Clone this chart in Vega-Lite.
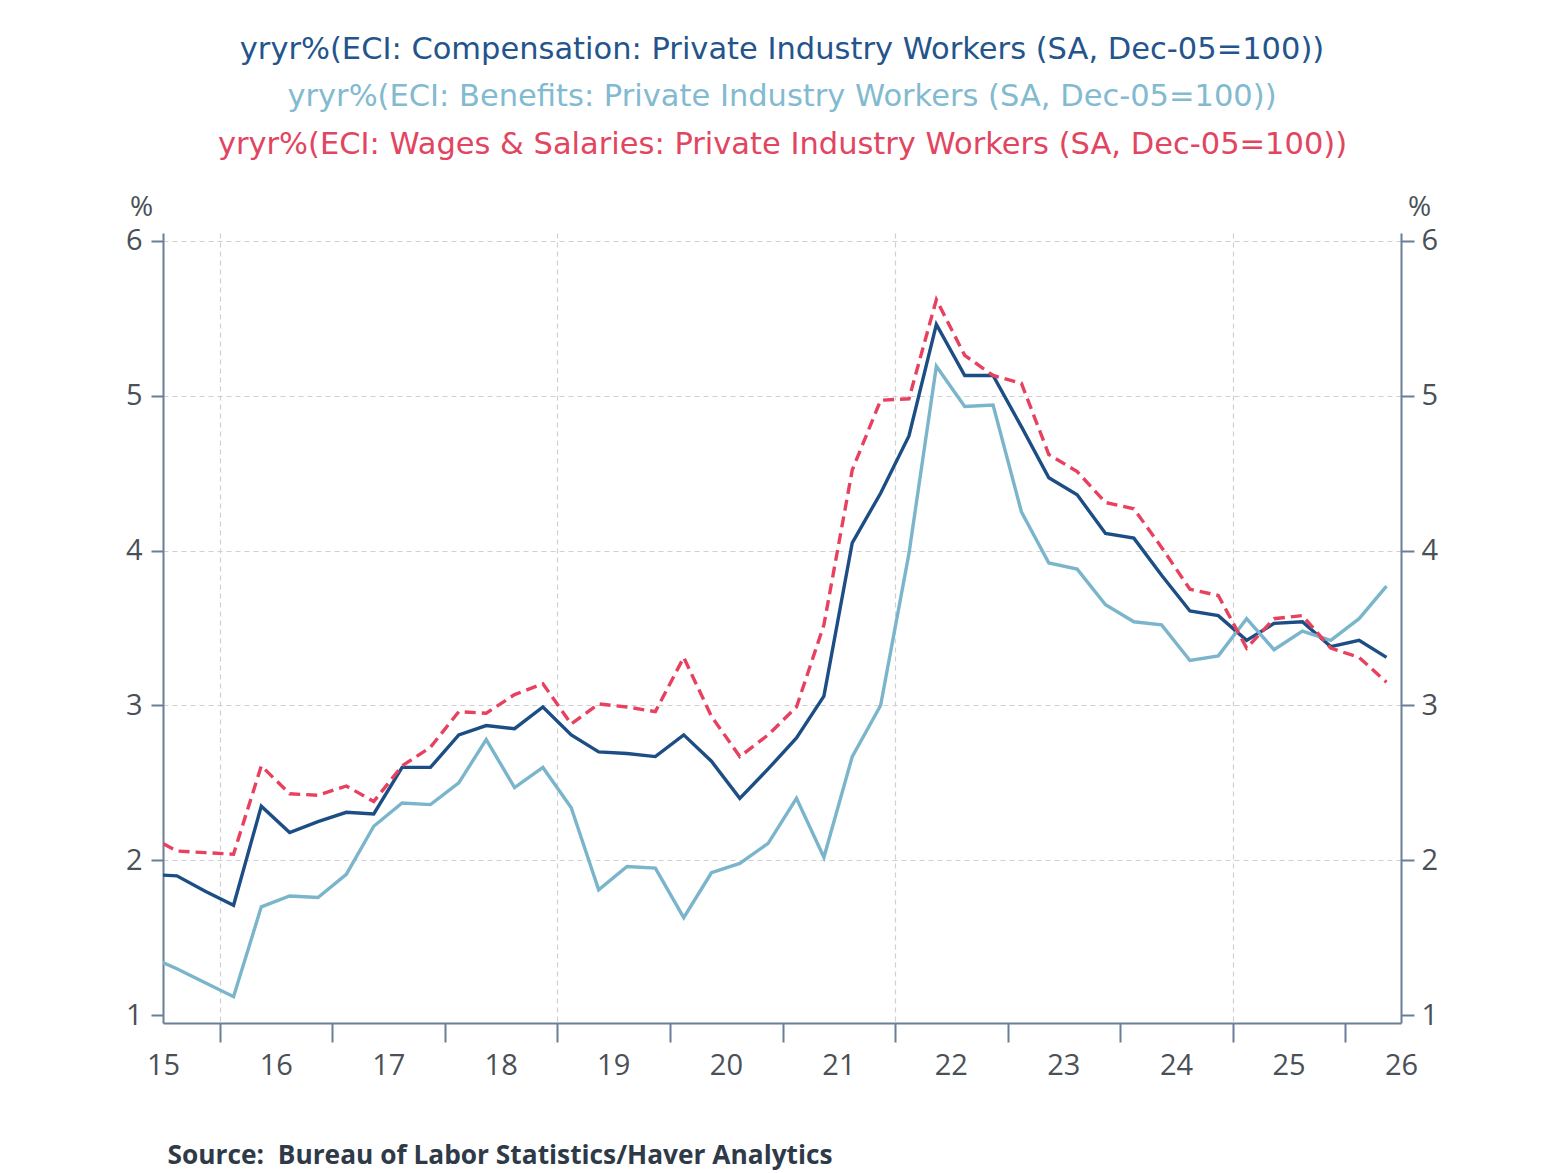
{
  "$schema": "https://vega.github.io/schema/vega-lite/v6.json",
  "autosize": {"type": "none"},
  "width": 1238,
  "height": 790,
  "padding": {"left": 163, "top": 233, "right": 159, "bottom": 150},
  "background": "white",
  "config": {"view": {"stroke": null}},
  "title": {
    "text": "yryr%(ECI: Compensation: Private Industry Workers (SA, Dec-05=100))",
    "subtitle": "yryr%(ECI: Benefits: Private Industry Workers (SA, Dec-05=100))",
    "font": "DejaVu Sans",
    "fontSize": 30.5,
    "fontWeight": "normal",
    "color": "#24548c",
    "subtitleFont": "DejaVu Sans",
    "subtitleFontSize": 30.5,
    "subtitleColor": "#82bad0",
    "subtitlePadding": 16,
    "anchor": "middle",
    "frame": "group",
    "offset": 17
  },
  "data": {
    "values": [
      {"date": "2015-05-15", "series": "Compensation", "value": 1.91},
      {"date": "2015-05-15", "series": "Benefits", "value": 1.38},
      {"date": "2015-05-15", "series": "Wages", "value": 2.16},
      {"date": "2015-08-15", "series": "Compensation", "value": 1.90},
      {"date": "2015-08-15", "series": "Benefits", "value": 1.30},
      {"date": "2015-08-15", "series": "Wages", "value": 2.06},
      {"date": "2015-11-15", "series": "Compensation", "value": 1.80},
      {"date": "2015-11-15", "series": "Benefits", "value": 1.21},
      {"date": "2015-11-15", "series": "Wages", "value": 2.05},
      {"date": "2016-02-15", "series": "Compensation", "value": 1.71},
      {"date": "2016-02-15", "series": "Benefits", "value": 1.12},
      {"date": "2016-02-15", "series": "Wages", "value": 2.04},
      {"date": "2016-05-15", "series": "Compensation", "value": 2.35},
      {"date": "2016-05-15", "series": "Benefits", "value": 1.70},
      {"date": "2016-05-15", "series": "Wages", "value": 2.61},
      {"date": "2016-08-15", "series": "Compensation", "value": 2.18},
      {"date": "2016-08-15", "series": "Benefits", "value": 1.77},
      {"date": "2016-08-15", "series": "Wages", "value": 2.43},
      {"date": "2016-11-15", "series": "Compensation", "value": 2.25},
      {"date": "2016-11-15", "series": "Benefits", "value": 1.76},
      {"date": "2016-11-15", "series": "Wages", "value": 2.42},
      {"date": "2017-02-15", "series": "Compensation", "value": 2.31},
      {"date": "2017-02-15", "series": "Benefits", "value": 1.91},
      {"date": "2017-02-15", "series": "Wages", "value": 2.48},
      {"date": "2017-05-15", "series": "Compensation", "value": 2.30},
      {"date": "2017-05-15", "series": "Benefits", "value": 2.22},
      {"date": "2017-05-15", "series": "Wages", "value": 2.38},
      {"date": "2017-08-15", "series": "Compensation", "value": 2.60},
      {"date": "2017-08-15", "series": "Benefits", "value": 2.37},
      {"date": "2017-08-15", "series": "Wages", "value": 2.61},
      {"date": "2017-11-15", "series": "Compensation", "value": 2.60},
      {"date": "2017-11-15", "series": "Benefits", "value": 2.36},
      {"date": "2017-11-15", "series": "Wages", "value": 2.73},
      {"date": "2018-02-15", "series": "Compensation", "value": 2.81},
      {"date": "2018-02-15", "series": "Benefits", "value": 2.50},
      {"date": "2018-02-15", "series": "Wages", "value": 2.96},
      {"date": "2018-05-15", "series": "Compensation", "value": 2.87},
      {"date": "2018-05-15", "series": "Benefits", "value": 2.78},
      {"date": "2018-05-15", "series": "Wages", "value": 2.95},
      {"date": "2018-08-15", "series": "Compensation", "value": 2.85},
      {"date": "2018-08-15", "series": "Benefits", "value": 2.47},
      {"date": "2018-08-15", "series": "Wages", "value": 3.07},
      {"date": "2018-11-15", "series": "Compensation", "value": 2.99},
      {"date": "2018-11-15", "series": "Benefits", "value": 2.60},
      {"date": "2018-11-15", "series": "Wages", "value": 3.14},
      {"date": "2019-02-15", "series": "Compensation", "value": 2.81},
      {"date": "2019-02-15", "series": "Benefits", "value": 2.34},
      {"date": "2019-02-15", "series": "Wages", "value": 2.88},
      {"date": "2019-05-15", "series": "Compensation", "value": 2.70},
      {"date": "2019-05-15", "series": "Benefits", "value": 1.81},
      {"date": "2019-05-15", "series": "Wages", "value": 3.01},
      {"date": "2019-08-15", "series": "Compensation", "value": 2.69},
      {"date": "2019-08-15", "series": "Benefits", "value": 1.96},
      {"date": "2019-08-15", "series": "Wages", "value": 2.99},
      {"date": "2019-11-15", "series": "Compensation", "value": 2.67},
      {"date": "2019-11-15", "series": "Benefits", "value": 1.95},
      {"date": "2019-11-15", "series": "Wages", "value": 2.96},
      {"date": "2020-02-15", "series": "Compensation", "value": 2.81},
      {"date": "2020-02-15", "series": "Benefits", "value": 1.63},
      {"date": "2020-02-15", "series": "Wages", "value": 3.31},
      {"date": "2020-05-15", "series": "Compensation", "value": 2.64},
      {"date": "2020-05-15", "series": "Benefits", "value": 1.92},
      {"date": "2020-05-15", "series": "Wages", "value": 2.93},
      {"date": "2020-08-15", "series": "Compensation", "value": 2.40},
      {"date": "2020-08-15", "series": "Benefits", "value": 1.98},
      {"date": "2020-08-15", "series": "Wages", "value": 2.67},
      {"date": "2020-11-15", "series": "Compensation", "value": 2.59},
      {"date": "2020-11-15", "series": "Benefits", "value": 2.11},
      {"date": "2020-11-15", "series": "Wages", "value": 2.81},
      {"date": "2021-02-15", "series": "Compensation", "value": 2.79},
      {"date": "2021-02-15", "series": "Benefits", "value": 2.40},
      {"date": "2021-02-15", "series": "Wages", "value": 2.99},
      {"date": "2021-05-15", "series": "Compensation", "value": 3.06},
      {"date": "2021-05-15", "series": "Benefits", "value": 2.02},
      {"date": "2021-05-15", "series": "Wages", "value": 3.52},
      {"date": "2021-08-15", "series": "Compensation", "value": 4.05},
      {"date": "2021-08-15", "series": "Benefits", "value": 2.67},
      {"date": "2021-08-15", "series": "Wages", "value": 4.52},
      {"date": "2021-11-15", "series": "Compensation", "value": 4.37},
      {"date": "2021-11-15", "series": "Benefits", "value": 3.00},
      {"date": "2021-11-15", "series": "Wages", "value": 4.97},
      {"date": "2022-02-15", "series": "Compensation", "value": 4.74},
      {"date": "2022-02-15", "series": "Benefits", "value": 3.98},
      {"date": "2022-02-15", "series": "Wages", "value": 4.98},
      {"date": "2022-05-15", "series": "Compensation", "value": 5.46},
      {"date": "2022-05-15", "series": "Benefits", "value": 5.19},
      {"date": "2022-05-15", "series": "Wages", "value": 5.62},
      {"date": "2022-08-15", "series": "Compensation", "value": 5.13},
      {"date": "2022-08-15", "series": "Benefits", "value": 4.93},
      {"date": "2022-08-15", "series": "Wages", "value": 5.26},
      {"date": "2022-11-15", "series": "Compensation", "value": 5.13},
      {"date": "2022-11-15", "series": "Benefits", "value": 4.94},
      {"date": "2022-11-15", "series": "Wages", "value": 5.13},
      {"date": "2023-02-15", "series": "Compensation", "value": 4.80},
      {"date": "2023-02-15", "series": "Benefits", "value": 4.25},
      {"date": "2023-02-15", "series": "Wages", "value": 5.08},
      {"date": "2023-05-15", "series": "Compensation", "value": 4.47},
      {"date": "2023-05-15", "series": "Benefits", "value": 3.92},
      {"date": "2023-05-15", "series": "Wages", "value": 4.62},
      {"date": "2023-08-15", "series": "Compensation", "value": 4.36},
      {"date": "2023-08-15", "series": "Benefits", "value": 3.88},
      {"date": "2023-08-15", "series": "Wages", "value": 4.51},
      {"date": "2023-11-15", "series": "Compensation", "value": 4.11},
      {"date": "2023-11-15", "series": "Benefits", "value": 3.65},
      {"date": "2023-11-15", "series": "Wages", "value": 4.31},
      {"date": "2024-02-15", "series": "Compensation", "value": 4.08},
      {"date": "2024-02-15", "series": "Benefits", "value": 3.54},
      {"date": "2024-02-15", "series": "Wages", "value": 4.27},
      {"date": "2024-05-15", "series": "Compensation", "value": 3.84},
      {"date": "2024-05-15", "series": "Benefits", "value": 3.52},
      {"date": "2024-05-15", "series": "Wages", "value": 4.02},
      {"date": "2024-08-15", "series": "Compensation", "value": 3.61},
      {"date": "2024-08-15", "series": "Benefits", "value": 3.29},
      {"date": "2024-08-15", "series": "Wages", "value": 3.75},
      {"date": "2024-11-15", "series": "Compensation", "value": 3.58},
      {"date": "2024-11-15", "series": "Benefits", "value": 3.32},
      {"date": "2024-11-15", "series": "Wages", "value": 3.71},
      {"date": "2025-02-15", "series": "Compensation", "value": 3.42},
      {"date": "2025-02-15", "series": "Benefits", "value": 3.56},
      {"date": "2025-02-15", "series": "Wages", "value": 3.37},
      {"date": "2025-05-15", "series": "Compensation", "value": 3.53},
      {"date": "2025-05-15", "series": "Benefits", "value": 3.36},
      {"date": "2025-05-15", "series": "Wages", "value": 3.56},
      {"date": "2025-08-15", "series": "Compensation", "value": 3.54},
      {"date": "2025-08-15", "series": "Benefits", "value": 3.48},
      {"date": "2025-08-15", "series": "Wages", "value": 3.58},
      {"date": "2025-11-15", "series": "Compensation", "value": 3.38},
      {"date": "2025-11-15", "series": "Benefits", "value": 3.42},
      {"date": "2025-11-15", "series": "Wages", "value": 3.37},
      {"date": "2026-02-15", "series": "Compensation", "value": 3.42},
      {"date": "2026-02-15", "series": "Benefits", "value": 3.56},
      {"date": "2026-02-15", "series": "Wages", "value": 3.31},
      {"date": "2026-05-15", "series": "Compensation", "value": 3.31},
      {"date": "2026-05-15", "series": "Benefits", "value": 3.77},
      {"date": "2026-05-15", "series": "Wages", "value": 3.15}
    ]
  },
  "layer": [
    {
      "transform": [{"filter": "datum.series != 'Wages'"}],
      "mark": {"type": "line", "strokeWidth": 3.4, "clip": true},
      "encoding": {
        "x": {
          "field": "date",
          "type": "temporal",
          "scale": {
            "type": "utc",
            "domain": [
              {"year": 2015, "month": 7, "date": 1, "utc": true},
              {"year": 2026, "month": 7, "date": 1, "utc": true}
            ]
          },
          "axis": {
            "orient": "bottom",
            "values": [
              {"year": 2015, "month": 7, "date": 1, "utc": true},
              {"year": 2016, "month": 1, "date": 1, "utc": true},
              {"year": 2016, "month": 7, "date": 1, "utc": true},
              {"year": 2017, "month": 1, "date": 1, "utc": true},
              {"year": 2017, "month": 7, "date": 1, "utc": true},
              {"year": 2018, "month": 1, "date": 1, "utc": true},
              {"year": 2018, "month": 7, "date": 1, "utc": true},
              {"year": 2019, "month": 1, "date": 1, "utc": true},
              {"year": 2019, "month": 7, "date": 1, "utc": true},
              {"year": 2020, "month": 1, "date": 1, "utc": true},
              {"year": 2020, "month": 7, "date": 1, "utc": true},
              {"year": 2021, "month": 1, "date": 1, "utc": true},
              {"year": 2021, "month": 7, "date": 1, "utc": true},
              {"year": 2022, "month": 1, "date": 1, "utc": true},
              {"year": 2022, "month": 7, "date": 1, "utc": true},
              {"year": 2023, "month": 1, "date": 1, "utc": true},
              {"year": 2023, "month": 7, "date": 1, "utc": true},
              {"year": 2024, "month": 1, "date": 1, "utc": true},
              {"year": 2024, "month": 7, "date": 1, "utc": true},
              {"year": 2025, "month": 1, "date": 1, "utc": true},
              {"year": 2025, "month": 7, "date": 1, "utc": true},
              {"year": 2026, "month": 1, "date": 1, "utc": true},
              {"year": 2026, "month": 7, "date": 1, "utc": true}
            ],
            "labelExpr": "utcmonth(datum.value) == 6 ? utcFormat(datum.value, '%y') : ''",
            "labelFont": "Open Sans",
            "labelFontSize": 29,
            "labelColor": "#4a5058",
            "labelPadding": 9,
            "labelFlush": false,
            "labelOverlap": false,
            "domainColor": "#6b7e98",
            "domainWidth": 2,
            "tickColor": "#6b7e98",
            "tickWidth": 2,
            "tickSize": 19,
            "tickOpacity": {"condition": {"test": "utcmonth(datum.value) == 0", "value": 1}, "value": 0},
            "grid": true,
            "gridColor": "#d0d0d0",
            "gridDash": [5, 4],
            "gridWidth": 1.2,
            "gridOpacity": {"condition": {"test": "utcmonth(datum.value) == 0 && (utcyear(datum.value) - 2016) % 3 == 0", "value": 1}, "value": 0},
            "title": "Source: \u00a0Bureau of Labor Statistics/Haver Analytics",
            "titleFont": "Open Sans",
            "titleFontWeight": "bold",
            "titleFontSize": 26.3,
            "titleColor": "#2e3a48",
            "titleAnchor": "start",
            "titleAlign": "left",
            "titleBaseline": "alphabetic",
            "titleX": 4,
            "titleY": 140
          }
        },
        "y": {
          "field": "value",
          "type": "quantitative",
          "scale": {"domain": [0.95, 6.05], "nice": false, "zero": false},
          "axis": {
            "orient": "left",
            "values": [1, 2, 3, 4, 5, 6],
            "labelFont": "Open Sans",
            "labelFontSize": 29,
            "labelColor": "#4a5058",
            "labelPadding": 9,
            "domainColor": "#6b7e98",
            "domainWidth": 2,
            "tickColor": "#6b7e98",
            "tickWidth": 2,
            "tickSize": 12,
            "grid": true,
            "gridColor": "#d0d0d0",
            "gridDash": [5, 4],
            "gridWidth": 1.2,
            "gridOpacity": {"condition": {"test": "datum.value > 1", "value": 1}, "value": 0},
            "title": "%",
            "titleFont": "Open Sans",
            "titleFontSize": 28,
            "titleFontWeight": "normal",
            "titleColor": "#4a5058",
            "titleAngle": 0,
            "titleAlign": "center",
            "titleBaseline": "middle",
            "titleX": -22,
            "titleY": -26
          }
        },
        "color": {
          "field": "series",
          "type": "nominal",
          "scale": {"domain": ["Compensation", "Benefits", "Wages"], "range": ["#1c4e85", "#7ab5cb", "#e8415f"]},
          "legend": null
        },
        "order": {"field": "series", "sort": "ascending"}
      }
    },
    {
      "transform": [{"filter": "datum.series == 'Wages'"}],
      "mark": {"type": "line", "strokeWidth": 3.4, "strokeDash": [11, 6], "clip": true},
      "encoding": {
        "x": {
          "field": "date",
          "type": "temporal",
          "axis": {
            "orient": "top",
            "domain": false,
            "ticks": false,
            "labels": false,
            "grid": false,
            "title": "yryr%(ECI: Wages & Salaries: Private Industry Workers (SA, Dec-05=100))",
            "titleFont": "DejaVu Sans",
            "titleFontSize": 30.5,
            "titleFontWeight": "normal",
            "titleColor": "#e2455f",
            "titleAnchor": "middle",
            "titleBaseline": "alphabetic",
            "titleY": -80
          }
        },
        "y": {
          "field": "value",
          "type": "quantitative",
          "axis": {
            "orient": "right",
            "values": [1, 2, 3, 4, 5, 6],
            "labelFont": "Open Sans",
            "labelFontSize": 29,
            "labelColor": "#4a5058",
            "labelPadding": 7,
            "domainColor": "#6b7e98",
            "domainWidth": 2,
            "tickColor": "#6b7e98",
            "tickWidth": 2,
            "tickSize": 13,
            "grid": false,
            "title": "%",
            "titleFont": "Open Sans",
            "titleFontSize": 28,
            "titleFontWeight": "normal",
            "titleColor": "#4a5058",
            "titleAngle": 0,
            "titleAlign": "center",
            "titleBaseline": "middle",
            "titleX": 18,
            "titleY": -26
          }
        },
        "color": {"field": "series", "type": "nominal", "legend": null}
      }
    }
  ],
  "resolve": {"axis": {"x": "independent", "y": "independent"}}
}
